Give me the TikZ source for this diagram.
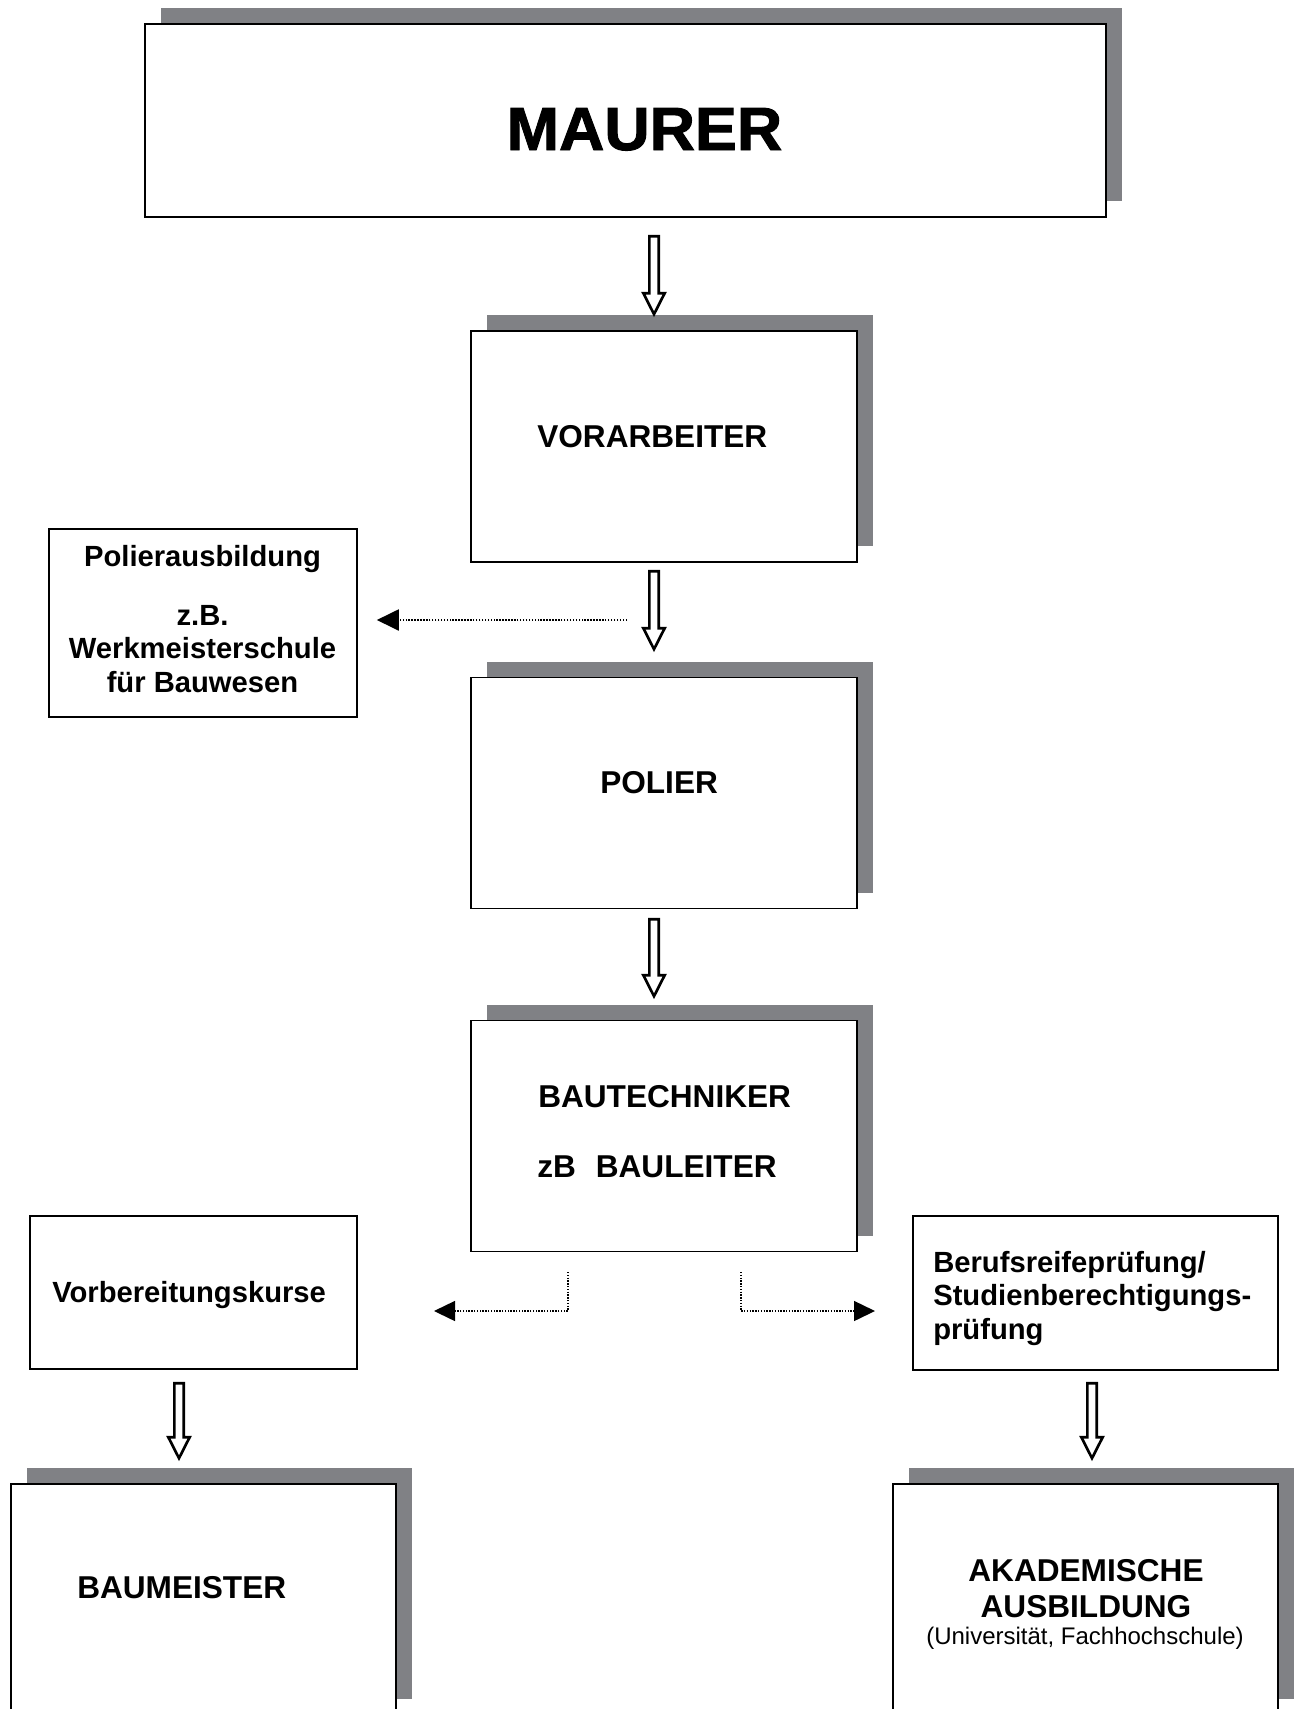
\documentclass[tikz,border=0pt]{standalone}
\usepackage{fontspec}
\setmainfont{Liberation Sans}
\newfontfamily\heavyfont[FakeBold=1.6]{Liberation Sans Bold}
\usetikzlibrary{arrows.meta}
\usetikzlibrary{shadows}
\usetikzlibrary{calc}

\definecolor{shadegray}{RGB}{128,129,133}

\tikzset{
  box/.style={draw, line width=1.2pt, fill=white, inner sep=0pt},
  shadowed/.style={drop shadow={shadow xshift=12pt, shadow yshift=12pt, fill=shadegray, opacity=1}},
  bigbox/.style={box, shadowed, minimum width=289.5pt, minimum height=173.25pt},
  titletext/.style={font=\heavyfont\fontsize{45.7}{50}\selectfont, inner sep=0pt, xscale=1.03},
  bigtext/.style={font=\bfseries\fontsize{23.7}{27}\selectfont, inner sep=0pt},
  smalltext/.style={font=\bfseries\fontsize{21.9}{25.1}\selectfont, inner sep=0pt},
  notetext/.style={font=\fontsize{18}{21}\selectfont, inner sep=0pt},
  hollow/.style={draw=black, fill=white, line width=2pt, line join=miter},
  dotarrow/.style={line width=1.5pt, dash pattern=on 1.1pt off 1.1pt,
    -{Triangle[length=16.5pt, width=15.75pt]}},
  dotthin/.style={line width=1.1pt, dash pattern=on 1pt off 1.1pt,
    -{Triangle[length=15.75pt, width=15pt]}},
}

% hollow block arrow pointing down, from #1 (top) to #2 (tip)
\newcommand{\hollowdown}[2]{%
  \path[hollow] let \p1 = (#1), \p2 = (#2) in
    (\x1-3.5pt,\y1) -- (\x1+3.5pt,\y1) -- (\x1+3.5pt,\y2+15.75pt) -- (\x1+8pt,\y2+15.75pt)
    -- (\x1,\y2) -- (\x1-8pt,\y2+15.75pt) -- (\x1-3.5pt,\y2+15.75pt) -- cycle;
}

\begin{document}
\begin{tikzpicture}[x=0.75pt, y=-0.75pt]

  \useasboundingbox (0,0) rectangle (1300,1709);

  % main career column
  \node[box, shadowed, minimum width=720.75pt, minimum height=144.75pt] (maurer) at (625.5,120.5) {};
  \node[titletext, anchor=base] (maurertext) at (644.5,150) {MAURER};

  \node[bigbox] (vorarbeiter) at (664,446.5) {};
  \node[bigtext, anchor=base west] (vorarbeitertext) at (537,447) {VORARBEITER};

  \node[bigbox] (polier) at (664,793) {};
  \node[bigtext, anchor=base west] (poliertext) at (600,793) {POLIER};

  \node[bigbox] (bautechniker) at (664,1136) {};
  \node[bigtext, anchor=base west] (bautechnikertext) at (538,1107) {BAUTECHNIKER};
  \node[bigtext, anchor=base west] (bauleitertext) at (537,1177) {zB\hspace{15pt}BAULEITER};

  % side boxes (base anchor = last line)
  \node[box, minimum width=231pt, minimum height=141pt] (polieraus) at (203,623) {};
  \node[smalltext, anchor=base, align=center] (polierausText) at (202.5,692)
    {Polierausbildung\\[19pt] z.B.\\ Werkmeisterschule\\ für Bauwesen};

  \node[box, minimum width=245.25pt, minimum height=114.75pt] (vorbereitung) at (193.5,1292.5) {};
  \node[smalltext, anchor=base west] (vorbereitungtext) at (52,1302) {Vorbereitungskurse};

  \node[box, minimum width=273.75pt, minimum height=115.5pt] (berufsreife) at (1095.5,1293) {};
  \node[smalltext, anchor=base west, align=left] (berufsreifetext) at (933,1339)
    {Berufsreifeprüfung/\\ Studienberechtigungs-\\ prüfung};

  % final boxes
  \node[bigbox, minimum width=288.75pt] (baumeister) at (203.5,1599.5) {};
  \node[bigtext, anchor=base west] (baumeistertext) at (77,1598) {BAUMEISTER};

  \node[bigbox, minimum width=288.75pt] (akademisch) at (1085.5,1599.5) {};
  \node[bigtext, anchor=base, align=center] (akademischtext) at (1086,1617) {AKADEMISCHE\\ AUSBILDUNG};
  \node[notetext, anchor=base] (unitext) at (1085,1644) {(Universität, Fachhochschule)};

  % block arrows
  \coordinate (a1) at (654,236.3);  \coordinate (a1tip) at (654,314.2);
  \coordinate (a2) at (654,571.3);  \coordinate (a2tip) at (654,649.2);
  \coordinate (a3) at (654,919.3);  \coordinate (a3tip) at (654,996.2);
  \coordinate (a4) at (179,1383.3); \coordinate (a4tip) at (179,1458.2);
  \coordinate (a5) at (1092,1383.3); \coordinate (a5tip) at (1092,1458.2);
  \foreach \a in {a1,a2,a3,a4,a5} {
    \hollowdown{\a}{\a tip}
  }

  % dotted side branches
  \coordinate (polstart) at (627,620);
  \draw[dotarrow, shorten >=14.25pt] (polstart) -- (polstart -| polieraus.east);

  \coordinate (leftstart) at (568,1272);
  \coordinate (leftend) at (434,1311);
  \draw[dotthin] (leftstart) |- (leftend);

  \coordinate (rightstart) at (741,1272);
  \coordinate (rightend) at (875,1311);
  \draw[dotthin] (rightstart) |- (rightend);

\end{tikzpicture}
\end{document}
